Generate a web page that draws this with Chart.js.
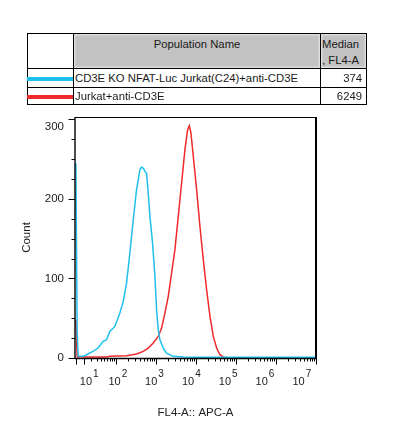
<!DOCTYPE html>
<html><head><meta charset="utf-8">
<script src="https://cdn.jsdelivr.net/npm/chart.js@4"></script>
<style>
html,body{margin:0;padding:0;background:#fff;}
#wrap{position:relative;width:400px;height:445px;overflow:hidden;background:#fff;}
#c{position:absolute;left:0;top:0;}
.cell{position:absolute;box-sizing:border-box;border:1px solid #000;font:11.3px "Liberation Sans",Arial,sans-serif;color:#1a1a1a;white-space:nowrap;overflow:hidden;background:#fff;}
.hdr{background:#c2c2c2;box-shadow:inset 0 0 0 1.5px #dcdcdc;}
.lg{position:absolute;height:4px;}
</style></head>
<body><div id="wrap"><canvas id="c" width="400" height="445"></canvas></div>
<script>
// ---------------- data ----------------
const seriesNames = ['CD3E KO NFAT-Luc Jurkat(C24)+anti-CD3E', 'Jurkat+anti-CD3E'];
const seriesColors = ['#20c0ee', '#ef2a2a'];
const medianValues = [374, 6249];

const blueIntensity = [0, 1.5, 2.7, 8.7, 13, 23, 33, 46, 57, 69, 93, 125, 152, 184, 223, 271, 328, 398, 438, 470, 500, 540, 584, 643, 708, 825, 944, 1040, 1144, 1258, 1525, 1850, 2710, 4820, 10000, 100000, 1000000, 10000000];
const blueCount     = [245, 30, 2.5, 2.1, 4.1, 8.3, 12.5, 20.9, 23, 33.4, 39.7, 56.5, 71.1, 94.2, 131.9, 173.8, 211.6, 236.7, 240, 239, 237.5, 234, 232.5, 207.3, 178, 144.4, 102.5, 60.6, 35.4, 23, 12.5, 6.2, 2.1, 1.3, 1, 1, 1, 1];

const redIntensity = [0, 1.5, 2.7, 57, 69, 184, 328, 482, 643, 858, 1144, 1385, 1678, 2034, 2464, 2986, 3618, 4384, 5312, 6196, 6820, 7500, 8580, 10400, 12600, 15270, 18500, 22420, 27150, 32900, 39860, 48280, 58500, 100000, 1000000, 10000000];
const redCount     = [48, 1.5, 1.3, 1.3, 2.1, 2.9, 5, 8.3, 12.5, 18.8, 27.1, 37.6, 56.5, 77.5, 106.8, 136.2, 178, 220, 261.9, 287, 292, 283, 253.6, 211.6, 165.4, 123.6, 85.8, 52.3, 27.1, 12.5, 4.1, 1.3, 0, 0, 0, 0];

const xMajorTicks = [0, 10, 100, 1000, 10000, 100000, 1000000, 10000000];
const xLabelExponents = [1, 2, 3, 4, 5, 6, 7];
const xMinorTicks = [];
for (let d = 1; d <= 6; d++) for (let k = 2; k <= 9; k++) xMinorTicks.push(k * Math.pow(10, d));
const yMajorTicks = [0, 100, 200, 300];
const yMinorTicks = [25, 50, 75, 125, 150, 175, 225, 250, 275];
const xTitle = 'FL4-A:: APC-A';
const yTitle = 'Count';

// ---------------- table (legend) ----------------
const wrap = document.getElementById('wrap');
function cell(l, t, w, h, cls, html, style) {
  const d = document.createElement('div');
  d.className = 'cell ' + (cls || '');
  d.style.left = l + 'px'; d.style.top = t + 'px'; d.style.width = w + 'px'; d.style.height = h + 'px';
  if (style) Object.assign(d.style, style);
  d.innerHTML = html || '';
  wrap.appendChild(d);
  return d;
}
cell(27, 33, 47, 36, '', '');
cell(73, 33, 248, 36, 'hdr', 'Population Name', {textAlign: 'center', paddingTop: '4px', lineHeight: '13px'});
cell(320, 33, 47, 36, 'hdr', 'Median<br>, FL4-A', {paddingLeft: '1px', paddingTop: '3px', lineHeight: '15.5px'});
const rowTop = [68, 87], rowH = [20, 18];
seriesNames.forEach((name, i) => {
  cell(27, rowTop[i], 47, rowH[i], '', '');
  cell(73, rowTop[i], 248, rowH[i], '', name, {paddingLeft: '1px', lineHeight: (rowH[i] - 2) + 'px'});
  cell(320, rowTop[i], 47, rowH[i], '', String(medianValues[i]), {textAlign: 'right', paddingRight: '4px', lineHeight: (rowH[i] - 2) + 'px'});
  const lg = document.createElement('div');
  lg.className = 'lg';
  lg.style.left = '27px'; lg.style.width = '46px';
  lg.style.top = (rowTop[i] + rowH[i] / 2 - 1.5) + 'px';
  lg.style.background = seriesColors[i];
  wrap.appendChild(lg);
});

// ---------------- biexponential-like scale ----------------
const BIEX_W = 20;
class BiexScale extends Chart.LinearScale {
  static id = 'biex';
  _t(v) { return Math.asinh(v / BIEX_W); }
  getPixelForValue(value) {
    if (value === null || value === undefined) return NaN;
    const a = this._t(this.min), b = this._t(this.max);
    return this.getPixelForDecimal((this._t(value) - a) / (b - a));
  }
  getValueForPixel(pixel) {
    const a = this._t(this.min), b = this._t(this.max);
    return BIEX_W * Math.sinh(a + this.getDecimalForPixel(pixel) * (b - a));
  }
}
Chart.register(BiexScale);

const FONT = "'Liberation Sans', Arial, sans-serif";
const TXT = '#222';

const axisDecor = {
  id: 'axisDecor',
  afterDraw(chart) {
    const {ctx, chartArea: a, scales: {x, y}} = chart;
    ctx.save();
    ctx.strokeStyle = '#000';
    ctx.lineWidth = 1;
    ctx.beginPath();
    xMinorTicks.forEach(v => { const p = Math.round(x.getPixelForValue(v)) + 0.5; ctx.moveTo(p, a.bottom); ctx.lineTo(p, a.bottom + 3.5); });
    xMajorTicks.forEach(v => { const p = Math.round(x.getPixelForValue(v)) + 0.5; ctx.moveTo(p, a.bottom); ctx.lineTo(p, a.bottom + 6.5); });
    yMinorTicks.forEach(v => { const p = Math.round(y.getPixelForValue(v)) + 0.5; ctx.moveTo(a.left, p); ctx.lineTo(a.left - 3.5, p); });
    yMajorTicks.forEach(v => { const p = Math.round(y.getPixelForValue(v)) + 0.5; ctx.moveTo(a.left, p); ctx.lineTo(a.left - 6.5, p); });
    ctx.stroke();
    // frame
    ctx.lineWidth = 1;
    ctx.beginPath(); ctx.moveTo(a.left, a.top + 0.5); ctx.lineTo(a.right, a.top + 0.5); ctx.stroke();
    ctx.lineWidth = 1.4;
    ctx.beginPath(); ctx.moveTo(a.left, a.top); ctx.lineTo(a.left, a.bottom + 1); ctx.stroke();
    ctx.beginPath(); ctx.moveTo(a.left, a.bottom + 0.5); ctx.lineTo(a.right, a.bottom + 0.5); ctx.stroke();
    ctx.lineWidth = 2;
    ctx.beginPath(); ctx.moveTo(a.right, a.top); ctx.lineTo(a.right, a.bottom + 1); ctx.stroke();
    // y labels
    ctx.fillStyle = TXT;
    ctx.font = '11.5px ' + FONT;
    ctx.textAlign = 'right'; ctx.textBaseline = 'middle';
    yMajorTicks.forEach(v => {
      const p = Math.max(y.getPixelForValue(v), a.top + 10);
      ctx.fillText(String(v), a.left - 11, p);
    });
    // x labels 10^n
    ctx.textAlign = 'left'; ctx.textBaseline = 'alphabetic';
    xLabelExponents.forEach((e, i) => {
      const px = x.getPixelForValue(Math.pow(10, e));
      const center = px + 5 - 3.2 * i;
      ctx.font = '11px ' + FONT;
      const w10 = ctx.measureText('10').width;
      ctx.font = '10px ' + FONT;
      const we = ctx.measureText(String(e)).width;
      const start = center - (w10 + 1 + we) / 2;
      ctx.font = '11px ' + FONT;
      ctx.fillText('10', start, a.bottom + 27);
      ctx.font = '10px ' + FONT;
      ctx.fillText(String(e), start + w10 + 1, a.bottom + 18.5);
    });
    ctx.restore();
  }
};

const zip = (xs, ys) => xs.map((v, i) => ({x: v, y: ys[i]}));

new Chart(document.getElementById('c'), {
  type: 'line',
  data: {
    datasets: [
      {label: seriesNames[0], data: zip(blueIntensity, blueCount), borderColor: seriesColors[0], borderWidth: 1.5, pointRadius: 0, tension: 0, fill: false},
      {label: seriesNames[1], data: zip(redIntensity, redCount), borderColor: seriesColors[1], borderWidth: 1.5, pointRadius: 0, tension: 0, fill: false}
    ]
  },
  options: {
    responsive: false,
    animation: false,
    layout: {padding: {top: 117, right: 84, bottom: 0, left: 0}},
    plugins: {legend: {display: false}, tooltip: {enabled: false}},
    scales: {
      x: {
        type: 'biex', min: -1, max: 10000000,
        ticks: {display: false}, grid: {display: false}, border: {display: false},
        afterBuildTicks: s => { s.ticks = xMajorTicks.map(v => ({value: v})); },
        afterFit: s => { s.height = 87; },
        title: {display: true, text: xTitle, color: TXT, font: {family: FONT, size: 11.5}, padding: {top: 0, bottom: 25}}
      },
      y: {
        type: 'linear', min: 0, max: 303,
        ticks: {display: false}, grid: {display: false}, border: {display: false},
        afterFit: s => { s.width = 75; },
        title: {display: true, text: yTitle, color: TXT, font: {family: FONT, size: 11.5}, padding: {top: 20, bottom: 0}}
      }
    }
  },
  plugins: [axisDecor]
});
</script></body></html>
